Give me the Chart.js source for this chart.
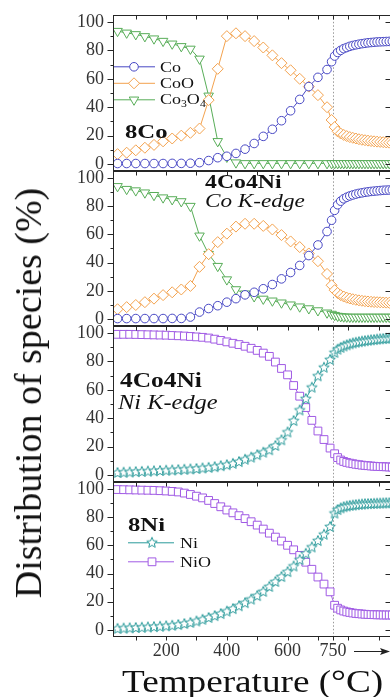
<!DOCTYPE html>
<html>
<head>
<meta charset="utf-8">
<script src="https://cdn.jsdelivr.net/npm/chart.js@4.4.1/dist/chart.umd.min.js"></script>
<style>
  html, body { margin: 0; padding: 0; background: #fff; }
  #page { position: relative; width: 390px; height: 697px; overflow: hidden; }
  #page canvas { position: absolute; left: 0; }
  .t { position: absolute; white-space: nowrap; line-height: 1; color: #111;
       font-family: "Liberation Serif", "Times New Roman", serif; transform-origin: 0 50%; }
  .t sub { font-size: 0.65em; vertical-align: -0.3em; line-height: 0; }
  .b { font-weight: bold; }
  .i { font-style: italic; }
</style>
</head>
<body>
<div id="page">
  <canvas id="p1" width="400" height="200"></canvas>
  <canvas id="p2" width="400" height="200"></canvas>
  <canvas id="p3" width="400" height="200"></canvas>
  <canvas id="p4" width="400" height="230"></canvas>

  <div class="t" style="left:28px;top:393px;font-size:38px;transform:translate(-50%,-50%) rotate(-90deg);transform-origin:50% 50%">Distribution of species (%)</div>
  <div class="t" style="left:122px;top:666px;font-size:31px;transform:scaleX(1.2)">Temperature (°C)</div>

  <div class="t" style="left:160px;top:60px;font-size:15px;transform:scaleX(1.2)">Co</div>
  <div class="t" style="left:160px;top:76px;font-size:15px;transform:scaleX(1.2)">CoO</div>
  <div class="t" style="left:160px;top:92px;font-size:15px;transform:scaleX(1.2)">Co<sub>3</sub>O<sub>4</sub></div>
  <div class="t b" style="left:125px;top:122px;font-size:19px;transform:scaleX(1.3)">8Co</div>

  <div class="t b" style="left:205px;top:172px;font-size:19px;transform:scaleX(1.25)">4Co4Ni</div>
  <div class="t i" style="left:205px;top:191px;font-size:19px;transform:scaleX(1.22)">Co K-edge</div>

  <div class="t b" style="left:120px;top:370px;font-size:20px;transform:scaleX(1.27)">4Co4Ni</div>
  <div class="t i" style="left:118px;top:392px;font-size:20px;transform:scaleX(1.22)">Ni K-edge</div>

  <div class="t b" style="left:128px;top:515px;font-size:19px;transform:scaleX(1.3)">8Ni</div>
  <div class="t" style="left:180px;top:536px;font-size:15px;transform:scaleX(1.2)">Ni</div>
  <div class="t" style="left:180px;top:555px;font-size:15px;transform:scaleX(1.2)">NiO</div>
</div>
<script>
// temperatures (°C); after 750 the sample is held at 750 °C, points run on to the right
const rampCo = [40, 70, 100, 130, 160, 190, 220, 250, 280, 310, 340, 370, 400, 430, 460, 490, 520, 550, 580, 610, 640, 670, 700, 730, 745];
const rampNi = [40, 60, 80, 100, 120, 140, 160, 180, 200, 220, 240, 260, 280, 300, 320, 340, 360, 380, 400, 420, 440, 460, 480, 500, 520, 540, 560, 580, 600, 620, 640, 660, 680, 700, 720, 740];
const isoHold = [755, 765, 775, 785, 795, 805, 815, 825, 835, 845, 855, 865, 875, 885, 895, 905, 915, 925, 935, 945];
const tempCo = rampCo.concat(isoHold);
const tempNi = rampNi.concat(isoHold);

const xTickLabels = [200, 400, 600, 750];
const xTickMarks = [100, 200, 300, 400, 500, 600, 700, 750, 800, 900];
const yTickValues = [0, 20, 40, 60, 80, 100];
const yMinorValues = [10, 30, 50, 70, 90];

// 8Co
const co_8Co = [0.4, 0.4, 0.4, 0.4, 0.4, 0.4, 0.5, 0.5, 0.6, 1, 2.5, 4.5, 5.5, 7.5, 10.5, 14.5, 19.5, 24.5, 30.5, 37.5, 45.5, 54.5, 61, 66.5, 72,
  76, 78.5, 80, 81.2, 82, 82.8, 83.4, 83.9, 84.3, 84.7, 85, 85.3, 85.5, 85.7, 85.9, 86, 86.1, 86.2, 86.3, 86.4];
const coo_8Co = [7, 8, 9.7, 11.5, 13.5, 16, 18, 20, 22, 25, 45, 67, 90, 92, 90, 86.5, 82, 76.5, 71, 66, 60, 54.5, 48.5, 40, 31,
  26, 23, 21.5, 20.5, 19.7, 19, 18.5, 18, 17.5, 17.1, 16.8, 16.5, 16.2, 16, 15.8, 15.6, 15.4, 15.2, 15.1, 15];
const co3o4_8Co = [93.5, 92.3, 91.2, 89.8, 88.2, 86.5, 84.6, 82.8, 81, 74, 48, 16, 5, 1, 0.5, 0.5, 0.5, 0.5, 0.5, 0.5, 0.5, 0.5, 0.5, 0.5, 0.5,
  0.5, 0.5, 0.5, 0.5, 0.5, 0.5, 0.5, 0.5, 0.5, 0.5, 0.5, 0.5, 0.5, 0.5, 0.5, 0.5, 0.5, 0.5, 0.5, 0.5];

// 4Co4Ni, Co K-edge
const co_4Co4Ni = [0.4, 0.4, 0.4, 0.4, 0.4, 0.4, 0.5, 0.5, 1.5, 5, 7.5, 9.5, 12, 14.5, 17.2, 19, 21.5, 24.5, 28.5, 33, 38, 45, 52.5, 62, 70,
  77, 81, 83.5, 85.2, 86.3, 87.2, 87.9, 88.5, 89, 89.4, 89.8, 90.1, 90.4, 90.6, 90.8, 91, 91.2, 91.3, 91.4, 91.5];
const coo_4Co4Ni = [7, 8.5, 10, 12, 14.5, 17, 19, 21, 23.5, 37, 46, 54.5, 60.5, 65.5, 67.5, 67.5, 66, 63.5, 59.5, 55, 51, 46.5, 41, 32, 24,
  20.5, 18.5, 17, 16, 15.2, 14.6, 14.1, 13.7, 13.3, 13, 12.7, 12.5, 12.3, 12.1, 12, 11.9, 11.8, 11.7, 11.6, 11.5];
const co3o4_4Co4Ni = [94, 92, 91, 89.5, 87.7, 86, 84.7, 83.3, 80, 59, 46, 37.5, 28, 21, 18, 16, 14.3, 13, 11.6, 10.2, 8.8, 7.5, 6.1, 4.5, 3.6,
  2.8, 2.2, 1.9, 1.7, 1.6, 1.5, 1.5, 1.5, 1.5, 1.5, 1.5, 1.5, 1.5, 1.5, 1.5, 1.5, 1.5, 1.5, 1.5, 1.5];

// 4Co4Ni, Ni K-edge
const ni_4Co4Ni = [1.5, 1.7, 1.9, 2.1, 2.3, 2.5, 2.7, 2.9, 3.1, 3.3, 3.5, 3.8, 4, 4.3, 4.7, 5.1, 5.6, 6.3, 7, 7.9, 9.2, 10.8, 12.3, 14, 15.8, 17.5, 20.5, 24.5, 30, 38, 45.5, 53.5, 61.5, 69.5, 75.5, 81,
  86, 88.2, 89.5, 90.5, 91.3, 92, 92.6, 93.1, 93.5, 93.9, 94.2, 94.5, 94.8, 95, 95.3, 95.5, 95.7, 95.9, 96, 96.2];
const nio_4Co4Ni = [99, 99, 99, 98.9, 98.8, 98.7, 98.6, 98.5, 98.4, 98.2, 98, 97.8, 97.5, 97.2, 96.9, 96.4, 95.6, 94.7, 93.7, 92.7, 91.8, 90.6, 89.2, 87.7, 85.8, 83.5, 79.5, 75, 70.5, 63, 55.5, 47.5, 38.5, 31, 25, 19,
  15, 12.3, 10.6, 9.6, 8.9, 8.4, 8, 7.6, 7.3, 7, 6.8, 6.6, 6.4, 6.2, 6.1, 6, 5.9, 5.8, 5.7, 5.6];

// 8Ni
const ni_8Ni = [0.8, 1, 1.2, 1.4, 1.6, 1.8, 2, 2.3, 2.6, 3, 3.5, 4.2, 5, 6, 7.2, 8.5, 9.8, 11.3, 13, 14.8, 16.8, 19, 21.5, 24, 27, 30.5, 34, 37.5, 41, 45, 49.5, 54, 58.5, 63, 67.5, 73,
  82.5, 85, 86.2, 87, 87.5, 87.9, 88.2, 88.5, 88.7, 88.9, 89.1, 89.2, 89.3, 89.4, 89.5, 89.6, 89.7, 89.8, 89.8, 89.9];
const nio_8Ni = [99.5, 99.4, 99.3, 99.2, 99.1, 99, 98.9, 98.7, 98.5, 98.2, 97.8, 97, 96, 94.8, 93.6, 91.8, 89.6, 87.3, 85, 83, 81, 78.9, 76.7, 74.3, 71.5, 68.6, 65.8, 63, 60, 56.8, 52.8, 48, 43, 37.5, 32.5, 27,
  17.5, 15.4, 14.2, 13.4, 12.8, 12.4, 12, 11.7, 11.5, 11.3, 11.1, 11, 10.9, 10.8, 10.7, 10.7, 10.6, 10.6, 10.6, 10.6];

const colCo = "#4848c4";
const colCoO = "#f3a24e";
const colCo3O4 = "#58ad58";
const colNi = "#2a9a9a";
const colNiO = "#a05ae4";

const serif = "'Liberation Serif', 'Times New Roman', serif";

function starImage(color, r) {
	const c = document.createElement("canvas");
	const s = Math.ceil(r * 2 + 3);
	c.width = s;
	c.height = s;
	const g = c.getContext("2d");
	g.beginPath();
	for (let i = 0; i < 10; i++) {
		const a = -Math.PI / 2 + (i * Math.PI) / 5;
		const rr = i % 2 ? r * 0.45 : r;
		g.lineTo(s / 2 + rr * Math.cos(a), s / 2 + rr * Math.sin(a));
	}
	g.closePath();
	g.fillStyle = "#fff";
	g.fill();
	g.strokeStyle = color;
	g.lineWidth = 1;
	g.stroke();
	return c;
}

function series(label, temps, values, color, style, radius, rotation) {
	return {
		label: label,
		data: temps.map((t, i) => ({ x: t, y: values[i] })),
		borderColor: color,
		backgroundColor: "#fff",
		borderWidth: 1,
		pointStyle: style,
		pointRadius: radius,
		pointRotation: rotation || 0,
		pointBorderColor: color,
		pointBackgroundColor: "#fff",
		pointBorderWidth: 1,
		tension: 0,
		fill: false,
	};
}

function drawMarker(ctx, ds, x, y) {
	const st = ds.pointStyle;
	const r = ds.pointRadius;
	if (st instanceof HTMLCanvasElement) {
		ctx.drawImage(st, x - st.width / 2, y - st.height / 2);
		return;
	}
	ctx.beginPath();
	if (st === "circle") {
		ctx.arc(x, y, r, 0, Math.PI * 2);
	} else if (st === "rectRot") {
		ctx.moveTo(x, y - r);
		ctx.lineTo(x + r, y);
		ctx.lineTo(x, y + r);
		ctx.lineTo(x - r, y);
		ctx.closePath();
	} else if (st === "rect") {
		const h = r * Math.SQRT1_2;
		ctx.rect(x - h, y - h, 2 * h, 2 * h);
	} else if (st === "triangle") {
		ctx.moveTo(x, y + r);
		ctx.lineTo(x - 0.866 * r, y - 0.5 * r);
		ctx.lineTo(x + 0.866 * r, y - 0.5 * r);
		ctx.closePath();
	}
	ctx.fillStyle = "#fff";
	ctx.fill();
	ctx.strokeStyle = ds.borderColor;
	ctx.lineWidth = 1;
	ctx.stroke();
}

const framePlugin = {
	id: "frame",
	beforeDatasetsDraw(chart) {
		const { ctx, chartArea: a, scales } = chart;
		const px = Math.round(scales.x.getPixelForValue(750)) + 0.5;
		ctx.save();
		ctx.strokeStyle = "#9a9a9a";
		ctx.lineWidth = 1;
		ctx.setLineDash([1.5, 2]);
		ctx.beginPath();
		ctx.moveTo(px, a.top);
		ctx.lineTo(px, a.bottom);
		ctx.stroke();
		ctx.restore();
	},
	afterDatasetsDraw(chart, args, opts) {
		const { ctx, chartArea: a, scales } = chart;
		const L = Math.round(a.left) + 0.5;
		const R = Math.round(a.right) - 0.5;
		const T = Math.round(a.top) + 0.5;
		const B = Math.round(a.bottom) - 0.5;
		ctx.save();
		ctx.strokeStyle = "#262626";
		ctx.lineWidth = 1;
		ctx.strokeRect(L, T, R - L, B - T);
		ctx.beginPath();
		yTickValues.forEach((v) => {
			const py = Math.round(scales.y.getPixelForValue(v)) + 0.5;
			ctx.moveTo(L - 6, py);
			ctx.lineTo(L, py);
			ctx.moveTo(R - 6, py);
			ctx.lineTo(R, py);
		});
		yMinorValues.forEach((v) => {
			const py = Math.round(scales.y.getPixelForValue(v)) + 0.5;
			ctx.moveTo(L - 3, py);
			ctx.lineTo(L, py);
		});
		xTickMarks.forEach((v) => {
			const p = Math.round(scales.x.getPixelForValue(v)) + 0.5;
			ctx.moveTo(p, B);
			ctx.lineTo(p, B + 4);
			ctx.moveTo(p, T);
			ctx.lineTo(p, T + 4);
		});
		ctx.stroke();

		if (opts.legend) {
			const lg = opts.legend;
			lg.items.forEach((it) => {
				const ds = chart.data.datasets[it.index];
				const yy = a.top + it.dy;
				ctx.strokeStyle = ds.borderColor;
				ctx.beginPath();
				ctx.moveTo(lg.x0, yy);
				ctx.lineTo(lg.x1, yy);
				ctx.stroke();
				drawMarker(ctx, ds, lg.xm, yy);
			});
		}

		if (opts.arrow) {
			const yy = Math.round(a.bottom) + 14.5;
			ctx.strokeStyle = "#222";
			ctx.fillStyle = "#222";
			ctx.beginPath();
			ctx.moveTo(354, yy);
			ctx.lineTo(384, yy);
			ctx.stroke();
			ctx.beginPath();
			ctx.moveTo(390, yy);
			ctx.lineTo(380, yy - 3.5);
			ctx.lineTo(382, yy);
			ctx.lineTo(380, yy + 3.5);
			ctx.closePath();
			ctx.fill();
		}
		ctx.restore();
	},
};

function makeConfig(datasets, frameOpts) {
	const tickFont = { family: serif, size: 18 };
	const isBottom = !!frameOpts.bottom;
	return {
		type: "line",
		data: { datasets: datasets() },
		options: {
			responsive: false,
			maintainAspectRatio: false,
			animation: false,
			devicePixelRatio: 1,
			layout: { padding: { left: 0, right: 8, top: 8, bottom: 8 } },
			plugins: {
				legend: { display: false },
				tooltip: { enabled: false },
				frame: frameOpts,
			},
			scales: {
				x: {
					type: "linear",
					min: 25,
					max: 944,
					display: isBottom,
					afterFit: (s) => {
						s.height = isBottom ? 30 : 0;
					},
					afterBuildTicks: (s) => {
						s.ticks = xTickLabels.map((v) => ({ value: v }));
					},
					grid: { drawOnChartArea: false, drawTicks: false },
					border: { display: false },
					ticks: { color: "#333", font: tickFont, padding: 3, maxRotation: 0, autoSkip: false },
				},
				y: {
					min: -5,
					max: 105,
					afterFit: (s) => {
						s.width = 113;
					},
					afterBuildTicks: (s) => {
						s.ticks = yTickValues.map((v) => ({ value: v }));
					},
					grid: { drawOnChartArea: false, drawTicks: false },
					border: { display: false },
					ticks: { color: "#333", font: tickFont, padding: 9, autoSkip: false },
				},
			},
		},
		plugins: [framePlugin],
	};
}

// build once to learn the layout offsets, then size and place the canvas so the plot box lands where wanted
function panel(id, datasets, frameOpts, plotTop, plotBottom) {
	const canvas = document.getElementById(id);
	let chart = new Chart(canvas, makeConfig(datasets, frameOpts));
	const topOff = chart.chartArea.top;
	const botOff = chart.height - chart.chartArea.bottom;
	chart.destroy();
	canvas.style.width = "";
	canvas.style.height = "";
	canvas.width = 400;
	canvas.height = Math.round(plotBottom - plotTop + topOff + botOff);
	canvas.style.top = Math.round(plotTop - topOff) + "px";
	return new Chart(canvas, makeConfig(datasets, frameOpts));
}

const star = starImage(colNi, 5.5);

panel("p1", () => [
	series("Co", tempCo, co_8Co, colCo, "circle", 4.3),
	series("CoO", tempCo, coo_8Co, colCoO, "rectRot", 5.5),
	series("Co3O4", tempCo, co3o4_8Co, colCo3O4, "triangle", 5.5, 180),
], {
	legend: { x0: 114, x1: 155, xm: 134, items: [{ index: 0, dy: 52 }, { index: 1, dy: 68.5 }, { index: 2, dy: 85 }] },
}, 15, 171);

panel("p2", () => [
	series("Co", tempCo, co_4Co4Ni, colCo, "circle", 4.3),
	series("CoO", tempCo, coo_4Co4Ni, colCoO, "rectRot", 5.5),
	series("Co3O4", tempCo, co3o4_4Co4Ni, colCo3O4, "triangle", 5.5, 180),
], {}, 171, 326);

panel("p3", () => [
	series("Ni", tempNi, ni_4Co4Ni, colNi, star, 5.5),
	series("NiO", tempNi, nio_4Co4Ni, colNiO, "rect", 5.5),
], {}, 326, 482);

panel("p4", () => [
	series("Ni", tempNi, ni_8Ni, colNi, star, 5.5),
	series("NiO", tempNi, nio_8Ni, colNiO, "rect", 5.5),
], {
	bottom: true,
	arrow: true,
	legend: { x0: 128, x1: 174, xm: 152, items: [{ index: 0, dy: 61 }, { index: 1, dy: 80 }] },
}, 482, 637);
</script>
</body>
</html>
